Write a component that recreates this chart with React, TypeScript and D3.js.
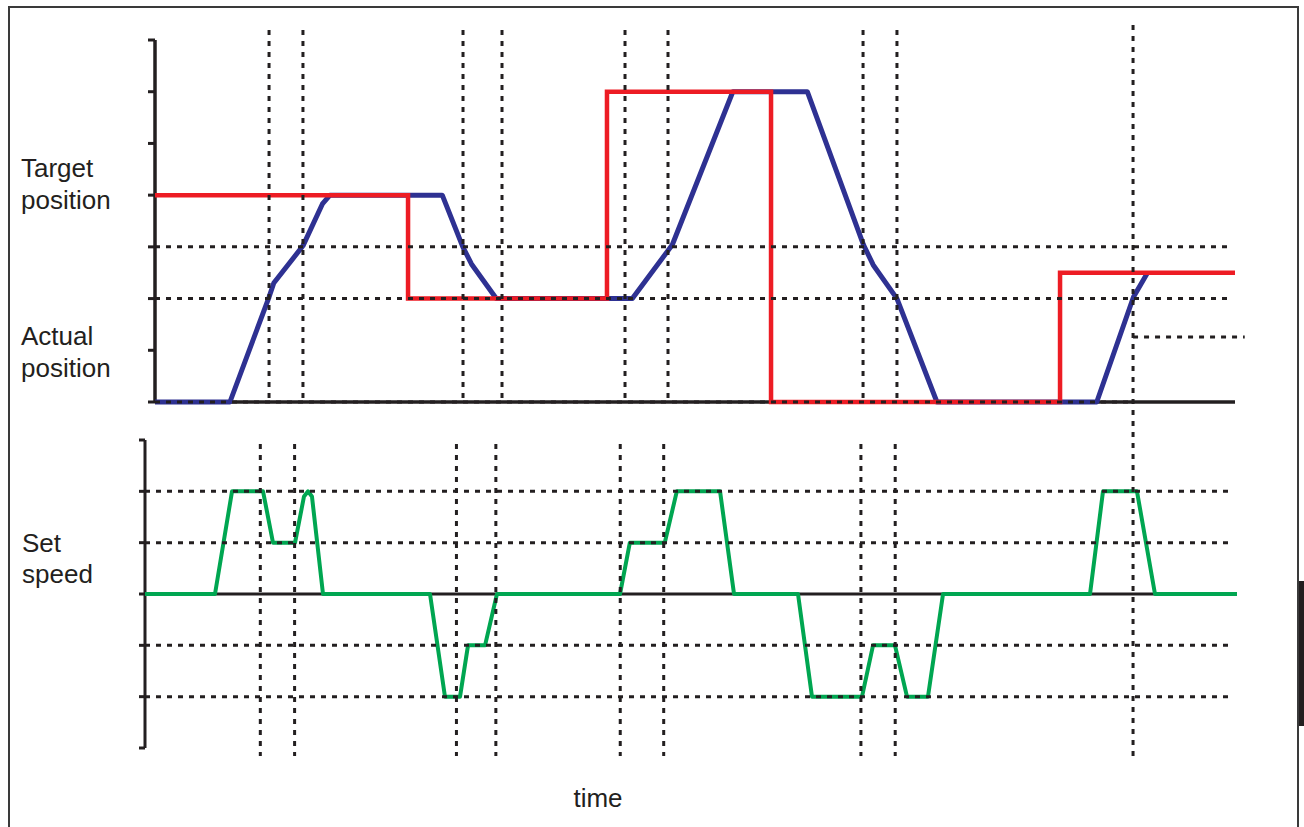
import React from "react";
import * as d3 from "d3";

// ---- data (time in arbitrary units 0..100, levels in axis-tick units) ----
const targetTimes = [0, 23.43, 41.85, 57.04, 83.8, 100];
const targetLevels = [4, 2, 6, 0, 2.5, 2.5];

const actualTimes = [0, 6.94, 10.56, 11.0, 13.7, 15.5, 16.2, 26.6, 28.5, 29.3, 31.6, 44.2, 47.9, 53.5, 60.4, 65.6, 66.5, 68.7, 72.4, 87.2, 90.6, 91.9];
const actualLevels = [0, 0, 2.03, 2.3, 3.02, 3.83, 4, 4, 3, 2.67, 2, 2, 3.04, 6, 6, 3.04, 2.65, 2, 0, 0, 2.03, 2.5];

const speedTimes = [0, 6.41, 7.97, 10.81, 11.72, 13.74, 14.56, 14.93, 15.29, 16.3, 26.1, 27.47, 28.85, 29.58, 31.14, 32.23, 43.5, 44.4, 47.6, 48.7, 52.66, 53.94, 59.8, 61.08, 65.66, 66.67, 68.68, 69.78, 71.7, 73.08, 86.54, 87.73, 90.84, 92.49, 100];
const speedLevels = [0, 0, 2, 2, 1, 1, 1.9, 2, 1.9, 0, 0, -2, -2, -1, -1, 0, 0, 1, 1, 2, 2, 0, 0, -2, -2, -1, -1, -2, -2, 0, 0, 2, 2, 0, 0];

const markerTimes = [10.56, 13.7, 28.52, 32.13, 43.52, 47.5, 65.56, 68.7];
const longMarkerTime = 90.56;

const posTicks = [0, 1, 2, 3, 4, 5, 6, 7];
const posGridLevels = [2, 3];
const speedTicks = [-3, -2, -1, 0, 1, 2, 3];
const speedGridLevels = [2, 1, -1, -2];

const BLACK = "#231f20";
const BLUE = "#2e3192";
const RED = "#ed1c24";
const GREEN = "#00a651";
const FONT = "'Liberation Sans', Arial, Helvetica, sans-serif";

export default function App() {
  const xTop = d3.scaleLinear().domain([0, 100]).range([155, 1235]);
  const xBot = d3.scaleLinear().domain([0, 100]).range([145, 1237]);
  const yPos = d3.scaleLinear().domain([0, 7]).range([402, 40]);
  const ySpd = d3.scaleLinear().domain([-3, 3]).range([748, 440]);

  const target = targetTimes.map((t, i) => [t, targetLevels[i]] as [number, number]);
  const actual = actualTimes.map((t, i) => [t, actualLevels[i]] as [number, number]);
  const speed = speedTimes.map((t, i) => [t, speedLevels[i]] as [number, number]);

  const stepLine = d3.line<[number, number]>().x((d) => xTop(d[0])).y((d) => yPos(d[1])).curve(d3.curveStepAfter);
  const posLine = d3.line<[number, number]>().x((d) => xTop(d[0])).y((d) => yPos(d[1]));
  const spdLine = d3.line<[number, number]>().x((d) => xBot(d[0])).y((d) => ySpd(d[1]));

  const dash = "5,6";

  return (
    <svg
      width={1304}
      height={827}
      style={{ position: "absolute", left: 0, top: 0, background: "#fff" }}
    >
      {/* frame */}
      <rect x={9} y={7} width={1289} height={840} fill="none" stroke="#3a3a3a" strokeWidth={2} />
      <rect x={1299} y={581} width={5} height={145} fill={BLACK} />

      {/* labels */}
      <g fontFamily={FONT} fontSize={26} fill={BLACK}>
        <text x={21} y={177}>Target</text>
        <text x={21} y={209}>position</text>
        <text x={21} y={345}>Actual</text>
        <text x={21} y={377}>position</text>
        <text x={22} y={552}>Set</text>
        <text x={22} y={583}>speed</text>
      </g>
      <text x={598} y={807} fontFamily={FONT} fontSize={26} fill={BLACK} textAnchor="middle">time</text>

      {/* top axes */}
      <line x1={xTop(0)} x2={xTop(0)} y1={yPos(7)} y2={yPos(0)} stroke={BLACK} strokeWidth={3.5} />
      {posTicks.map((v) => (
        <line key={"pt" + v} x1={xTop(0) - 7} x2={xTop(0)} y1={yPos(v)} y2={yPos(v)} stroke={BLACK} strokeWidth={3} />
      ))}
      <line x1={xTop(0)} x2={xTop(100)} y1={yPos(0)} y2={yPos(0)} stroke={BLACK} strokeWidth={3.5} />

      {/* bottom axes */}
      <line x1={xBot(0)} x2={xBot(0)} y1={ySpd(3)} y2={ySpd(-3)} stroke={BLACK} strokeWidth={3} />
      {speedTicks.map((v) => (
        <line key={"st" + v} x1={xBot(0) - 6} x2={xBot(0)} y1={ySpd(v)} y2={ySpd(v)} stroke={BLACK} strokeWidth={3} />
      ))}
      <line x1={xBot(0)} x2={xBot(100)} y1={ySpd(0)} y2={ySpd(0)} stroke={BLACK} strokeWidth={3} />

      {/* series */}
      <path d={posLine(actual) ?? ""} fill="none" stroke={BLUE} strokeWidth={5} strokeLinejoin="round" />
      <path d={stepLine(target) ?? ""} fill="none" stroke={RED} strokeWidth={4.5} />
      <path d={spdLine(speed) ?? ""} fill="none" stroke={GREEN} strokeWidth={4} strokeLinejoin="round" />

      {/* dotted grid on top */}
      <g stroke={BLACK} strokeWidth={3} strokeDasharray={dash} fill="none">
        {posGridLevels.map((v) => (
          <line key={"pg" + v} x1={xTop(0)} x2={xTop(99.35)} y1={yPos(v)} y2={yPos(v)} />
        ))}
        <line x1={xTop(0)} x2={xTop(longMarkerTime)} y1={yPos(0)} y2={yPos(0)} />
        <line x1={xTop(longMarkerTime)} x2={xTop(100.9)} y1={yPos(1.257)} y2={yPos(1.257)} />
        {speedGridLevels.map((v) => (
          <line key={"sg" + v} x1={xBot(0)} x2={xBot(99.4)} y1={ySpd(v)} y2={ySpd(v)} />
        ))}
        {markerTimes.map((t) => (
          <line key={"mt" + t} x1={xTop(t)} x2={xTop(t)} y1={30} y2={yPos(0)} />
        ))}
        {markerTimes.map((t) => (
          <line key={"mb" + t} x1={xBot(t)} x2={xBot(t)} y1={444} y2={756} />
        ))}
        <line x1={xTop(longMarkerTime)} x2={xTop(longMarkerTime)} y1={25} y2={760} />
      </g>
    </svg>
  );
}
